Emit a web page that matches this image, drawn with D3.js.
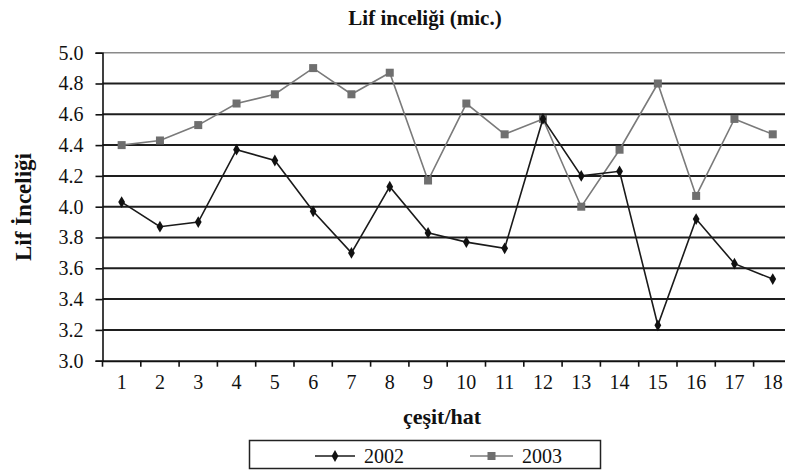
<!DOCTYPE html>
<html>
<head>
<meta charset="utf-8">
<script src="https://cdn.jsdelivr.net/npm/d3@7"></script>
<style>
html,body{margin:0;padding:0;background:#fff;}
svg{display:block;}
text{font-family:"Liberation Serif","Times New Roman",serif;fill:#111;}
</style>
</head>
<body>
<svg id="chart" width="785" height="470"></svg>
<script>
const categories = ["1","2","3","4","5","6","7","8","9","10","11","12","13","14","15","16","17","18"];
const values2002 = [4.03,3.87,3.90,4.37,4.30,3.97,3.70,4.13,3.83,3.77,3.73,4.57,4.20,4.23,3.23,3.92,3.63,3.53];
const values2003 = [4.40,4.43,4.53,4.67,4.73,4.90,4.73,4.87,4.17,4.67,4.47,4.57,4.00,4.37,4.80,4.07,4.57,4.47];
const yTicks = [3.0,3.2,3.4,3.6,3.8,4.0,4.2,4.4,4.6,4.8,5.0];
const seriesNames = ["2002","2003"];

(function(){
const svg = d3.select("#chart");
const plotLeft = 102.5, plotTop = 52.7, plotBottom = 360.7, bandW = 38.3;
const plotRight = plotLeft + bandW * categories.length;

const x = d3.scaleBand().domain(categories).range([plotLeft, plotRight]).paddingInner(0).paddingOuter(0);
const y = d3.scaleLinear().domain([3.0, 5.0]).range([plotBottom, plotTop]);

// gridlines
svg.append("g").selectAll("line").data(yTicks.filter(d => d > 3.0)).join("line")
  .attr("x1", plotLeft).attr("x2", plotRight)
  .attr("y1", d => y(d)).attr("y2", d => y(d))
  .attr("stroke", d => d === 5.0 ? "#8a8a8a" : "#1e1e1e")
  .attr("stroke-width", d => d === 5.0 ? 1.5 : 2);

// y axis
const yAxis = d3.axisLeft(y).tickValues(yTicks).tickFormat(d3.format(".1f")).tickSize(7).tickPadding(12);
const gy = svg.append("g").attr("transform", `translate(${plotLeft},0)`).call(yAxis);
gy.select(".domain").attr("stroke", "#111").attr("stroke-width", 1.6);
gy.selectAll(".tick line").attr("stroke", "#111").attr("stroke-width", 1.6);
gy.selectAll(".tick text").attr("font-size", 20).attr("font-family", "Liberation Serif").attr("fill", "#111");

// x axis
const xAxis = d3.axisBottom(x).tickSize(0).tickPadding(14);
const gx = svg.append("g").attr("transform", `translate(0,${plotBottom})`).call(xAxis);
gx.select(".domain").attr("stroke", "#111").attr("stroke-width", 2);
gx.selectAll(".tick text").attr("font-size", 20).attr("font-family", "Liberation Serif").attr("fill", "#111");
const bounds = d3.range(categories.length + 1).map(i => plotLeft + i * x.step());
svg.append("g").selectAll("line").data(bounds).join("line")
  .attr("x1", d => d).attr("x2", d => d)
  .attr("y1", plotBottom).attr("y2", plotBottom + 6)
  .attr("stroke", "#111").attr("stroke-width", 1.6);

const cx = d => x(d) + x.bandwidth() / 2;
const line = d3.line().x(d => cx(d.c)).y(d => y(d.v));

const d2003 = categories.map((c, i) => ({c, v: values2003[i]}));
const d2002 = categories.map((c, i) => ({c, v: values2002[i]}));

svg.append("path").datum(d2003).attr("d", line)
  .attr("fill", "none").attr("stroke", "#7a7a7a").attr("stroke-width", 1.6);
svg.append("g").selectAll("rect").data(d2003).join("rect")
  .attr("x", d => cx(d.c) - 4).attr("y", d => y(d.v) - 4)
  .attr("width", 8).attr("height", 8).attr("fill", "#6f6f6f");

svg.append("path").datum(d2002).attr("d", line)
  .attr("fill", "none").attr("stroke", "#1a1a1a").attr("stroke-width", 1.6);
const diamond = d3.symbol().type(d3.symbolDiamond).size(40);
svg.append("g").selectAll("path").data(d2002).join("path")
  .attr("d", diamond)
  .attr("transform", d => `translate(${cx(d.c)},${y(d.v)})`)
  .attr("fill", "#111");

svg.append("text").attr("x", 425).attr("y", 25).attr("text-anchor", "middle")
  .attr("font-size", 21).attr("font-weight", "bold").text("Lif inceliği (mic.)");
svg.append("text").attr("x", 442).attr("y", 424).attr("text-anchor", "middle")
  .attr("font-size", 22).attr("font-weight", "bold").text("çeşit/hat");
svg.append("text").attr("transform", "translate(31,207) rotate(-90)").attr("text-anchor", "middle")
  .attr("font-size", 23).attr("font-weight", "bold").text("Lif İnceliği");

const lg = svg.append("g");
lg.append("rect").attr("x", 249.5).attr("y", 440.5).attr("width", 351).attr("height", 28)
  .attr("fill", "#fff").attr("stroke", "#222").attr("stroke-width", 1.5);
const legendItems = [
  {name: seriesNames[0], x1: 315, x2: 355, color: "#1a1a1a", type: "diamond"},
  {name: seriesNames[1], x1: 470, x2: 513, color: "#7a7a7a", type: "square"}
];
const ly = 456;
legendItems.forEach(it => {
  lg.append("line").attr("x1", it.x1).attr("x2", it.x2).attr("y1", ly).attr("y2", ly)
    .attr("stroke", it.color).attr("stroke-width", 1.6);
  const mx = (it.x1 + it.x2) / 2;
  if (it.type === "diamond") {
    lg.append("path").attr("d", diamond).attr("transform", `translate(${mx},${ly})`).attr("fill", "#111");
  } else {
    lg.append("rect").attr("x", mx - 4).attr("y", ly - 4).attr("width", 8).attr("height", 8).attr("fill", "#6f6f6f");
  }
  lg.append("text").attr("x", it.x2 + 9).attr("y", ly + 7).attr("font-size", 20).text(it.name);
});
})();
</script>
</body>
</html>
